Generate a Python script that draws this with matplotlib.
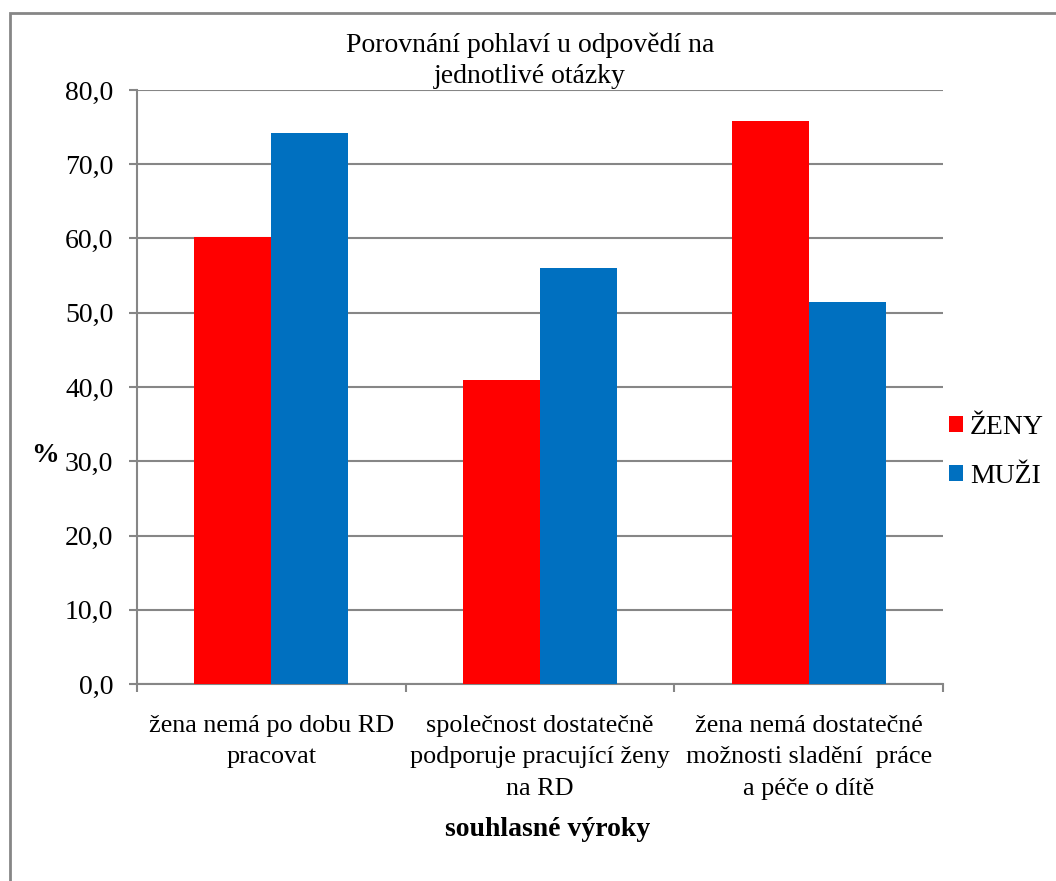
import matplotlib as mpl
import matplotlib.pyplot as plt
import numpy as np
from matplotlib.patches import Rectangle
from matplotlib.ticker import FuncFormatter, FixedLocator, NullFormatter

mpl.rcParams['font.family'] = ['Liberation Serif', 'DejaVu Serif']

# podíly souhlasných odpovědí (%)
otazky = ['žena nemá po dobu RD\npracovat',
          'společnost dostatečně\npodporuje pracující ženy\nna RD',
          'žena nemá dostatečné\nmožnosti sladění  práce\na péče o dítě']
zeny = [60.2, 40.9, 75.8]
muzi = [74.2, 56.0, 51.4]

W, H = 1056, 881
fs = 20
fig = plt.figure(figsize=(W / 100, H / 100), dpi=100)
ax = fig.add_axes([137 / W, 1 - 684 / H, (943 - 137) / W, (684 - 90) / H])

sede = '#868686'
x = np.arange(len(otazky))
w = 0.286
ax.bar(x - w / 2, zeny, w, color='#FF0000', label='ŽENY', zorder=3)
ax.bar(x + w / 2, muzi, w, color='#0070C0', label='MUŽI', zorder=3)

ax.set_xlim(-0.5, len(otazky) - 0.5)
ax.set_ylim(0, 80)
ax.set_yticks(np.arange(0, 81, 10))
ax.yaxis.set_major_formatter(FuncFormatter(lambda v, p: f'{v:.1f}'.replace('.', ',')))
ax.grid(axis='y', color=sede, lw=1.5, zorder=0)

# dělicí čárky mezi kategoriemi, popisky pod středem skupin
ax.xaxis.set_major_locator(FixedLocator(np.arange(-0.5, len(otazky), 1)))
ax.xaxis.set_major_formatter(NullFormatter())
ax.tick_params(axis='x', length=6, width=1.5, color=sede)
ax.tick_params(axis='y', length=6, width=1.5, color=sede, labelsize=fs, pad=11)
popisky_tr = mpl.transforms.blended_transform_factory(ax.transData, fig.transFigure)
for xi, txt in zip(x, otazky):
    ax.text(xi, 1 - 715 / H, txt, transform=popisky_tr,
            fontsize=18.8, ha='center', va='top', linespacing=1.55)

for s in ['top', 'right']:
    ax.spines[s].set_visible(False)
for s in ['left', 'bottom']:
    ax.spines[s].set_color(sede)
    ax.spines[s].set_linewidth(1.5)

fig.text(548 / W, 1 - 830 / H, 'souhlasné výroky', fontsize=fs, fontweight='bold',
         ha='center', va='center')
fig.text(45 / W, 1 - 456 / H, '%', fontsize=fs, fontweight='bold', ha='center', va='center')
fig.text(530 / W, 1 - 61 / H, 'Porovnání pohlaví u odpovědí na\njednotlivé otázky',
         fontsize=fs, ha='center', va='center', linespacing=1.3)

ax.legend(loc='center left', bbox_to_anchor=(949 / W, 1 - 452 / H), bbox_transform=fig.transFigure,
          frameon=False, fontsize=fs, handlelength=0.5, handleheight=0.5,
          handletextpad=0.25, labelspacing=0.85, borderpad=0, borderaxespad=0)

# rámeček grafu
fig.add_artist(Rectangle((10 / W, -0.1), 1.2, 0.1 + (H - 13) / H, transform=fig.transFigure,
                         fill=False, edgecolor=sede, lw=2))

fig.savefig('out.png', dpi=100)
